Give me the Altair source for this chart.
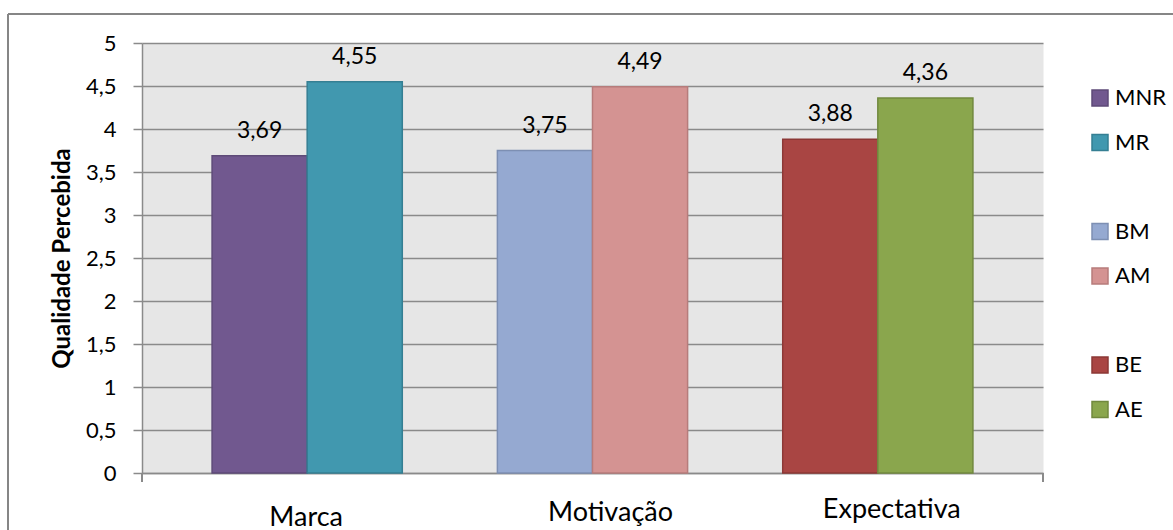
import altair as alt
import pandas as pd

categories = ["Marca", "Marca", "Motivação", "Motivação", "Expectativa", "Expectativa"]
slots = ["a", "b", "a", "b", "a", "b"]
series = ["MNR", "MR", "BM", "AM", "BE", "AE"]
values = [3.69, 4.55, 3.75, 4.49, 3.88, 4.36]

category_order = ["Marca", "Motivação", "Expectativa"]
legend_domain = ["MNR", "MR", " ", "BM", "AM", "  ", "BE", "AE"]
fill_range = ["#71588F", "#4198AF", "transparent", "#95A9D1", "#D49392", "transparent", "#A94543", "#8AA64D"]
stroke_range = ["#5E4A78", "#357F93", "transparent", "#7D8FB3", "#B67C7B", "transparent", "#8C3836", "#71893E"]

df = pd.DataFrame({"categoria": categories, "slot": slots, "serie": series, "valor": values})

FONT = "Lato"
GRAY = "#8A8A8A"

x_enc = alt.X("categoria:N", sort=category_order, title=None,
              scale=alt.Scale(paddingInner=1 / 3, paddingOuter=0.2456),
              axis=alt.Axis(labelAngle=0, labelFont=FONT, labelFontSize=27, labelColor="#000000",
                            ticks=False, domainColor=GRAY, domainWidth=1.5,
                            labelPadding={"condition": [
                                {"test": "datum.value === 'Motivação'", "value": 47},
                                {"test": "datum.value === 'Expectativa'", "value": 44}],
                                "value": 52},
                            labelOffset={"condition": [
                                {"test": "datum.value === 'Motivação'", "value": 18},
                                {"test": "datum.value === 'Expectativa'", "value": 14}],
                                "value": -1},
                            labelBaseline="alphabetic"))
xoff = alt.XOffset("slot:N", scale=alt.Scale(paddingInner=0, paddingOuter=0))

bars = alt.Chart(df).mark_bar(strokeWidth=1.5).encode(
    x=x_enc,
    xOffset=xoff,
    y=alt.Y("valor:Q", title="Qualidade Percebida",
            scale=alt.Scale(domain=[0, 5], nice=False),
            axis=alt.Axis(values=[0, 0.5, 1, 1.5, 2, 2.5, 3, 3.5, 4, 4.5, 5],
                          labelExpr="replace(toString(datum.value), '.', ',')",
                          labelFont=FONT, labelFontSize=22, labelColor="#000000",
                          labelPadding=17, tickSize=9, tickColor=GRAY, tickWidth=1.5,
                          domainColor=GRAY, domainWidth=1.5,
                          gridColor=GRAY, gridWidth=1.5,
                          titleFont=FONT, titleFontSize=24, titleFontWeight="bold",
                          titleColor="#000000", titleX=-80, titleY=215, titleAngle=-90,
                          titleAlign="center", titleBaseline="middle")),
    fill=alt.Fill("serie:N", scale=alt.Scale(domain=legend_domain, range=fill_range),
                  legend=alt.Legend(title=None, orient="none", legendX=947, legendY=44,
                                    symbolType="square", symbolSize=256, symbolStrokeWidth=1.5,
                                    labelFont=FONT, labelFontSize=22, labelColor="#000000",
                                    labelOffset=4, rowPadding=22.5, padding=0, columns=1)),
    stroke=alt.Stroke("serie:N", scale=alt.Scale(domain=legend_domain, range=stroke_range)),
)

labels = alt.Chart(df).transform_calculate(
    rotulo="replace(format(datum.valor, '.2f'), '.', ',')"
).mark_text(font=FONT, fontSize=23, color="#000000", baseline="alphabetic", dy=-18).encode(
    x=alt.X("categoria:N", sort=category_order),
    xOffset=xoff,
    y="valor:Q",
    text="rotulo:N",
)

frame_left = alt.Chart(df).mark_rule(color="#868686", strokeWidth=1.5).encode(
    x=alt.value(-134), y=alt.value(-29), y2=alt.value(520))
frame_top = alt.Chart(df).mark_rule(color="#868686", strokeWidth=1.5).encode(
    x=alt.value(-134), x2=alt.value(1040), y=alt.value(-29))
end_ticks_l = alt.Chart(df).mark_rule(color=GRAY, strokeWidth=1.5).encode(
    x=alt.value(0), y=alt.value(430), y2=alt.value(439))
end_ticks_r = alt.Chart(df).mark_rule(color=GRAY, strokeWidth=1.5).encode(
    x=alt.value(901), y=alt.value(430), y2=alt.value(439))

chart = alt.layer(bars, labels, frame_left, frame_top, end_ticks_l, end_ticks_r).properties(
    width=901, height=430,
    autosize=alt.AutoSizeParams(type="none"),
    padding={"left": 142, "top": 43, "right": 130, "bottom": 57},
    background="#FFFFFF",
).configure_view(fill="#E6E6E6", stroke="transparent")

chart.save("out.html", embed_options={"renderer": "svg", "actions": False})
